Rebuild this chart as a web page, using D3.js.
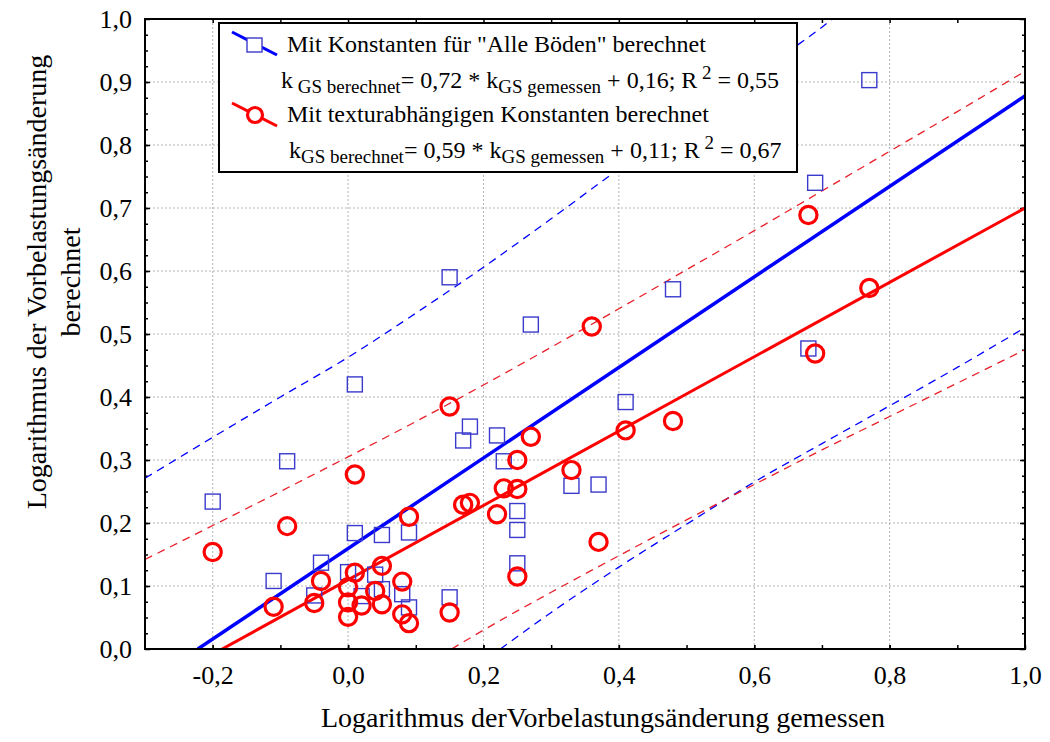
<!DOCTYPE html>
<html><head><meta charset="utf-8">
<script src="https://cdn.jsdelivr.net/npm/d3@7"></script>
<style>
html,body{margin:0;padding:0;background:#fff;}
svg{display:block;}
svg text{font-family:"Liberation Serif","Times New Roman",Times,"DejaVu Serif",serif !important;}
</style></head>
<body>
<svg id="chart" width="1050" height="742"></svg>
<script>
// ---- data ----
const xTickValues = [-0.2, 0.0, 0.2, 0.4, 0.6, 0.8, 1.0];
const yTickValues = [0.0, 0.1, 0.2, 0.3, 0.4, 0.5, 0.6, 0.7, 0.8, 0.9, 1.0];

// "Mit Konstanten für Alle Böden berechnet" (blue squares)
const blueX = [-0.20,-0.11,-0.09,-0.05,-0.04,0.00,0.01,0.01,0.02,0.04,0.05,0.05,0.08,0.09,0.09,0.15,0.15,0.17,0.18,0.22,0.23,0.25,0.25,0.25,0.27,0.33,0.37,0.41,0.48,0.68,0.69,0.77];
const blueY = [0.234,0.108,0.298,0.085,0.137,0.122,0.420,0.184,0.084,0.118,0.181,0.095,0.087,0.185,0.066,0.590,0.082,0.331,0.353,0.339,0.298,0.219,0.189,0.136,0.515,0.259,0.261,0.392,0.571,0.477,0.740,0.903];

// "Mit texturabhängigen Konstanten berechnet" (red circles)
const redX = [-0.20,-0.11,-0.09,-0.05,-0.04,0.00,0.00,0.00,0.01,0.01,0.02,0.04,0.05,0.05,0.08,0.08,0.09,0.09,0.15,0.15,0.17,0.18,0.22,0.23,0.25,0.25,0.25,0.27,0.33,0.36,0.37,0.41,0.48,0.68,0.69,0.77];
const redY = [0.154,0.067,0.195,0.073,0.108,0.098,0.074,0.051,0.277,0.121,0.069,0.092,0.132,0.071,0.107,0.055,0.210,0.041,0.385,0.058,0.229,0.232,0.214,0.255,0.300,0.254,0.115,0.337,0.284,0.512,0.170,0.347,0.362,0.689,0.469,0.573];

// regression lines (end points)
const blueFitX = [-0.222, 1.0];
const blueFitY = [0.0, 0.878];
const redFitX = [-0.186, 1.0];
const redFitY = [0.0, 0.700];

// prediction bands (dashed)
const blueUpperX = [-0.3,-0.2,-0.1,0.0,0.1,0.2,0.3,0.4,0.5,0.6,0.7,0.75];
const blueUpperY = [0.271,0.336,0.400,0.463,0.533,0.606,0.683,0.762,0.840,0.912,0.987,1.03];
const blueLowerX = [0.225,0.3,0.4,0.5,0.6,0.7,0.8,0.9,1.0];
const blueLowerY = [0.0,0.058,0.130,0.198,0.265,0.326,0.386,0.447,0.510];
const redUpperX = [-0.3,-0.2,-0.1,0.0,0.1,0.2,0.3,0.4,0.5,0.6,0.7,0.8,0.9,1.0];
const redUpperY = [0.142,0.196,0.250,0.305,0.361,0.419,0.479,0.540,0.602,0.664,0.727,0.790,0.853,0.917];
const redLowerX = [0.153,0.2,0.3,0.4,0.5,0.6,0.7,0.8,0.9,1.0];
const redLowerY = [0.0,0.030,0.090,0.148,0.205,0.261,0.316,0.369,0.422,0.475];

// ---- layout ----
const svg = d3.select("#chart");
const L = 145, R = 1025, T = 19, B = 649;
const x = d3.scaleLinear().domain([-0.3, 1.0]).range([L, R]);
const y = d3.scaleLinear().domain([0, 1]).range([B, T]);
const fmt = d => d.toFixed(1).replace(".", ",").replace("\u2212", "-");
const zip = (a, b) => a.map((v, i) => [v, b[i]]);
const FONT = "'Liberation Serif','Times New Roman',Times,'DejaVu Serif',serif";

const BLUE = "#0000ff", RED = "#ff0000", MBLUE = "#3a3acc";

svg.append("defs").append("clipPath").attr("id", "clip")
  .append("rect").attr("x", L).attr("y", T).attr("width", R - L).attr("height", B - T);

// grid
const grid = svg.append("g").attr("stroke", "#b4b4b4").attr("stroke-width", 1).attr("stroke-dasharray", "2,2");
grid.selectAll("line.gx").data(xTickValues.filter(v => v < 1.0)).join("line")
  .attr("x1", d => x(d)).attr("x2", d => x(d)).attr("y1", T).attr("y2", B);
grid.selectAll("line.gy").data(yTickValues.filter(v => v > 0 && v < 1.0)).join("line")
  .attr("x1", L).attr("x2", R).attr("y1", d => y(d)).attr("y2", d => y(d));

// axes
const fontSize = 26;
const axB = svg.append("g").attr("transform", `translate(0,${B})`)
  .call(d3.axisBottom(x).tickValues(xTickValues).tickSize(-4).tickPadding(17).tickFormat(fmt));
const axBm = svg.append("g").attr("transform", `translate(0,${B})`)
  .call(d3.axisBottom(x).tickValues(d3.range(-2, 10).map(i => i / 10)).tickSize(-4).tickFormat(""));
const axT = svg.append("g").attr("transform", `translate(0,${T})`)
  .call(d3.axisTop(x).tickValues(d3.range(-2, 10).map(i => i / 10)).tickSize(-4).tickFormat(""));
const axL = svg.append("g").attr("transform", `translate(${L},0)`)
  .call(d3.axisLeft(y).tickValues(yTickValues).tickSize(-5).tickPadding(13).tickFormat(fmt));
const axLm = svg.append("g").attr("transform", `translate(${L},0)`)
  .call(d3.axisLeft(y).tickValues(d3.range(1, 40).map(i => i / 40)).tickSize(-3).tickFormat(""));
const axR = svg.append("g").attr("transform", `translate(${R},0)`)
  .call(d3.axisRight(y).tickValues(yTickValues).tickSize(-5).tickFormat(""));
const axRm = svg.append("g").attr("transform", `translate(${R},0)`)
  .call(d3.axisRight(y).tickValues(d3.range(1, 40).map(i => i / 40)).tickSize(-3).tickFormat(""));
[axB, axBm, axT, axL, axLm, axR, axRm].forEach(g => {
  g.attr("font-family", FONT);
  g.select(".domain").remove();
  g.selectAll(".tick line").attr("stroke", "#000").attr("stroke-width", 1.5);
  g.selectAll("text").attr("font-family", FONT)
    .attr("font-size", fontSize).attr("fill", "#000");
});

// bands
const lineGen = d3.line().x(d => x(d[0])).y(d => y(d[1])).curve(d3.curveMonotoneX);
const plot = svg.append("g").attr("clip-path", "url(#clip)");
const bands = [
  [zip(blueUpperX, blueUpperY), BLUE],
  [zip(blueLowerX, blueLowerY), BLUE],
  [zip(redUpperX, redUpperY), "#e8202a"],
  [zip(redLowerX, redLowerY), "#e8202a"]
];
bands.forEach(([pts, c]) => {
  plot.append("path").datum(pts).attr("d", lineGen).attr("fill", "none")
    .attr("stroke", c).attr("stroke-width", 1.3).attr("stroke-dasharray", "8,6");
});

// regression lines
plot.append("path").datum(zip(blueFitX, blueFitY)).attr("d", d3.line().x(d => x(d[0])).y(d => y(d[1])))
  .attr("fill", "none").attr("stroke", BLUE).attr("stroke-width", 3.5);
plot.append("path").datum(zip(redFitX, redFitY)).attr("d", d3.line().x(d => x(d[0])).y(d => y(d[1])))
  .attr("fill", "none").attr("stroke", RED).attr("stroke-width", 3);

// markers
const S = 15;
plot.selectAll("rect.sq").data(zip(blueX, blueY)).join("rect").attr("class", "sq")
  .attr("x", d => x(d[0]) - S / 2).attr("y", d => y(d[1]) - S / 2)
  .attr("width", S).attr("height", S)
  .attr("fill", "none").attr("stroke", MBLUE).attr("stroke-width", 1.4);
plot.selectAll("circle.ci").data(zip(redX, redY)).join("circle").attr("class", "ci")
  .attr("cx", d => x(d[0])).attr("cy", d => y(d[1])).attr("r", 8.6)
  .attr("fill", "none").attr("stroke", RED).attr("stroke-width", 3.2);

// frame
svg.append("rect").attr("x", L).attr("y", T).attr("width", R - L).attr("height", B - T)
  .attr("fill", "none").attr("stroke", "#000").attr("stroke-width", 2);

// legend
const lg = svg.append("g").attr("font-family", FONT);
lg.append("rect").attr("x", 219).attr("y", 23).attr("width", 578).attr("height", 149)
  .attr("fill", "#fff").attr("stroke", "#000").attr("stroke-width", 2);
lg.append("line").attr("x1", 232).attr("y1", 32).attr("x2", 277).attr("y2", 55)
  .attr("stroke", BLUE).attr("stroke-width", 3);
lg.append("rect").attr("x", 247).attr("y", 38).attr("width", 15).attr("height", 14)
  .attr("fill", "#fff").attr("stroke", MBLUE).attr("stroke-width", 1.4);
lg.append("line").attr("x1", 232).attr("y1", 103).attr("x2", 277).attr("y2", 126)
  .attr("stroke", RED).attr("stroke-width", 3);
lg.append("circle").attr("cx", 255).attr("cy", 115).attr("r", 7.5)
  .attr("fill", "#fff").attr("stroke", RED).attr("stroke-width", 3.2);

const lfs = 24, sfs = 19;
function legText(xp, yp, parts) {
  const t = lg.append("text").attr("x", xp).attr("y", yp).attr("font-size", lfs)
    .attr("font-family", FONT).attr("fill", "#000");
  parts.forEach(p => {
    const ts = t.append("tspan").text(p.t);
    if (p.sub) ts.attr("font-size", sfs).attr("dy", 5);
    else if (p.sup) ts.attr("font-size", sfs).attr("dy", -9);
    else if (p.dy) ts.attr("dy", p.dy);
  });
  return t;
}
legText(287, 52, [{t: "Mit Konstanten für \"Alle Böden\" berechnet"}]);
legText(281, 88, [{t: "k"}, {t: " GS berechnet", sub: 1}, {t: "= 0,72 *  k", dy: -5},
  {t: "GS gemessen", sub: 1}, {t: " + 0,16; R", dy: -5}, {t: " 2", sup: 1}, {t: " = 0,55", dy: 9}]);
legText(287, 122, [{t: "Mit texturabhängigen Konstanten berechnet"}]);
legText(289, 158, [{t: "k"}, {t: "GS berechnet", sub: 1}, {t: "= 0,59 *  k", dy: -5},
  {t: "GS gemessen", sub: 1}, {t: " + 0,11; R", dy: -5}, {t: " 2", sup: 1}, {t: " = 0,67", dy: 9}]);

// axis titles
svg.append("text").attr("x", 603).attr("y", 727).attr("text-anchor", "middle").attr("font-family", FONT)
  .attr("font-size", 28).text("Logarithmus derVorbelastungsänderung gemessen");
svg.append("text").attr("transform", "translate(46,282) rotate(-90)").attr("text-anchor", "middle").attr("font-family", FONT)
  .attr("font-size", 28).text("Logarithmus der Vorbelastungsänderung");
svg.append("text").attr("transform", "translate(80,282) rotate(-90)").attr("text-anchor", "middle").attr("font-family", FONT)
  .attr("font-size", 28).text("berechnet");
</script>
</body></html>
